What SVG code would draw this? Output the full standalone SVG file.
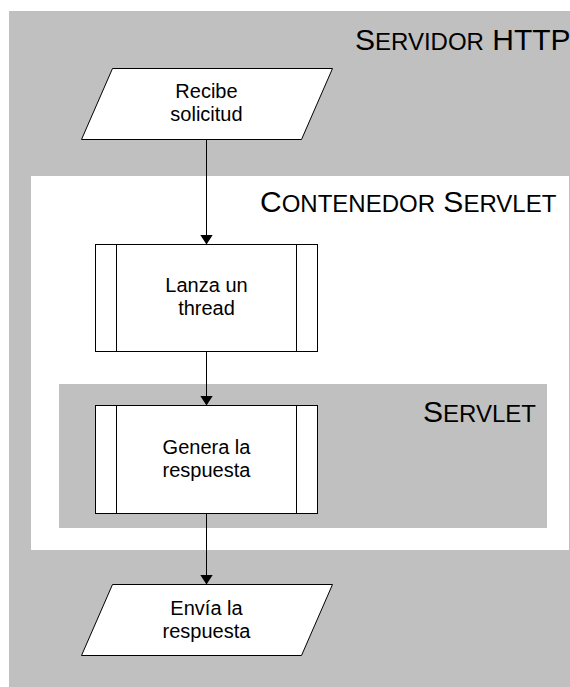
<svg xmlns="http://www.w3.org/2000/svg" width="570" height="687" viewBox="0 0 570 687">
  <style>
    text { font-family: "Liberation Sans", Arial, sans-serif; fill: #000; }
    .label { font-size: 20px; text-anchor: middle; }
    .title { font-size: 30px; }
    .sc { font-size: 24px; }
    .shape { fill: #fff; stroke: #000; stroke-width: 1; }
    .bar { stroke: #000; stroke-width: 1; fill: none; }
    .conn { stroke: #000; stroke-width: 1; fill: none; marker-end: url(#arrow); }
  </style>
  <defs>
    <marker id="arrow" viewBox="0 0 10 13" refX="10" refY="6.5" markerWidth="10" markerHeight="13" markerUnits="userSpaceOnUse" orient="auto-start-reverse">
      <path d="M0,0 L10,6.5 L0,13 Z" fill="#000" transform="rotate(0)"/>
    </marker>
  </defs>

  <!-- Swimlane: HTTP server -->
  <g id="servidor-http">
    <rect x="9" y="11" width="565" height="680" fill="#c0c0c0"/>
    <text class="title" x="355" y="50">S<tspan class="sc">ERVIDOR</tspan> HTTP</text>
  </g>

  <!-- Swimlane: servlet container -->
  <g id="contenedor-servlet">
    <rect x="31" y="176" width="538" height="374" fill="#fff"/>
    <text class="title" x="260" y="212">C<tspan class="sc">ONTENEDOR</tspan> S<tspan class="sc">ERVLET</tspan></text>
  </g>

  <!-- Swimlane: servlet -->
  <g id="servlet">
    <rect x="59" y="384" width="488" height="144" fill="#c0c0c0"/>
    <text class="title" x="423" y="422">S<tspan class="sc">ERVLET</tspan></text>
  </g>

  <!-- Connectors -->
  <g id="connectors">
    <line class="conn" x1="206.5" y1="139.5" x2="206.5" y2="244.5"/>
    <line class="conn" x1="206.5" y1="351.5" x2="206.5" y2="405.5"/>
    <line class="conn" x1="206.5" y1="513.5" x2="206.5" y2="584.5"/>
  </g>

  <!-- Nodes -->
  <g id="recibe-solicitud">
    <polygon class="shape" points="112.5,68.5 332.5,68.5 301.5,139.5 81.5,139.5"/>
    <text class="label" x="206.5" y="98">Recibe</text>
    <text class="label" x="206.5" y="121">solicitud</text>
  </g>

  <g id="lanza-thread">
    <rect class="shape" x="95.5" y="244.5" width="222" height="107"/>
    <line class="bar" x1="116.5" y1="244.5" x2="116.5" y2="351.5"/>
    <line class="bar" x1="296.5" y1="244.5" x2="296.5" y2="351.5"/>
    <text class="label" x="206.5" y="292">Lanza un</text>
    <text class="label" x="206.5" y="315">thread</text>
  </g>

  <g id="genera-respuesta">
    <rect class="shape" x="95.5" y="405.5" width="222" height="108"/>
    <line class="bar" x1="116.5" y1="405.5" x2="116.5" y2="513.5"/>
    <line class="bar" x1="296.5" y1="405.5" x2="296.5" y2="513.5"/>
    <text class="label" x="206.5" y="454">Genera la</text>
    <text class="label" x="206.5" y="477">respuesta</text>
  </g>

  <g id="envia-respuesta">
    <polygon class="shape" points="112.5,584.5 332.5,584.5 301.5,655.5 81.5,655.5"/>
    <text class="label" x="206.5" y="615">Envía la</text>
    <text class="label" x="206.5" y="638">respuesta</text>
  </g>
</svg>
